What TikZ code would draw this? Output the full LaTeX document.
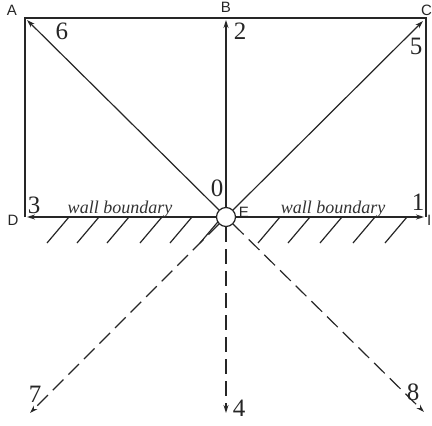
\documentclass[tikz,border=0pt]{standalone}
\usepackage{fontspec}
\setmainfont{Liberation Serif}
\newfontfamily\lettersf{Liberation Sans}
\usetikzlibrary{arrows.meta}
\begin{document}
\begin{tikzpicture}[x=1pt,y=-1pt,
  line/.style={line width=1.2pt,draw=black!85},
  ray/.style={line width=1.2pt,draw=black!85,-{Stealth[length=8pt,width=5pt]}},
  dray/.style={ray,dash pattern=on 15pt off 7pt},
  num/.style={font=\fontsize{25}{25}\selectfont,inner sep=0pt,text=black!85},
  lab/.style={font=\lettersf\fontsize{15}{15}\selectfont,inner sep=0pt,text=black!85},
  wall/.style={font=\itshape\fontsize{18}{18}\selectfont,inner sep=0pt,text=black!80},
  hatch/.style={line width=1.2pt,draw=black!85}]
\useasboundingbox (0,0) rectangle (432,426);
% corners
\coordinate (A) at (25,18);
\coordinate (C) at (426,18);
\coordinate (D) at (25,217);
\coordinate (I) at (426,217);
% rectangle
\draw[line] (D) -- (A) -- (C) -- (I);
% hatches
\foreach \x in {47,77,107,140,170,200,258,288,320,353,385} {
  \draw[hatch] (\x,243) -- (\x+22,217);
}
% centre circle
\node[circle,draw=black!85,line width=1.2pt,fill=white,minimum size=19pt,inner sep=0pt] (O) at (226,217) {};
% rays along wall
\draw[ray] (O.west) -- (27,217);
\draw[ray] (O.east) -- (424,217);
% rays
\draw[ray] (O) ++(-7,-7) coordinate (o6) (o6) -- (27,20);
\draw[ray] (O.north) -- (226,20);
\draw[ray] (O) ++(7,-7) coordinate (o5) (o5) -- (423,21);
\draw[dray] (O) ++(-7,7) coordinate (o7) (o7) -- (30,413);
\draw[dray] (O.south) -- (226,413);
\draw[dray] (O) ++(7,7) coordinate (o8) (o8) -- (424,412);
% number labels
\node[num] (n6) at (62,31) {6};
\node[num] (n2) at (240,31) {2};
\node[num] (n5) at (416,46) {5};
\node[num] (n3) at (34,205) {3};
\node[num] (n1) at (418,202) {1};
\node[num] (n0) at (217,188) {0};
\node[num] (n7) at (35,394) {7};
\node[num] (n4) at (239,408) {4};
\node[num] (n8) at (413,392) {8};
% letter labels
\node[lab] (lA) at (12,10) {A};
\node[lab] (lB) at (226,7) {B};
\node[lab,anchor=west] (lC) at (421,10) {C};
\node[lab] (lD) at (13,220) {D};
\node[lab] (lE) at (244,212) {E};
\node[lab,anchor=west] (lI) at (427,220) {I};
% wall boundary texts
\node[wall] (w1) at (120,209) {wall boundary};
\node[wall] (w2) at (333,209) {wall boundary};
\end{tikzpicture}
\end{document}
